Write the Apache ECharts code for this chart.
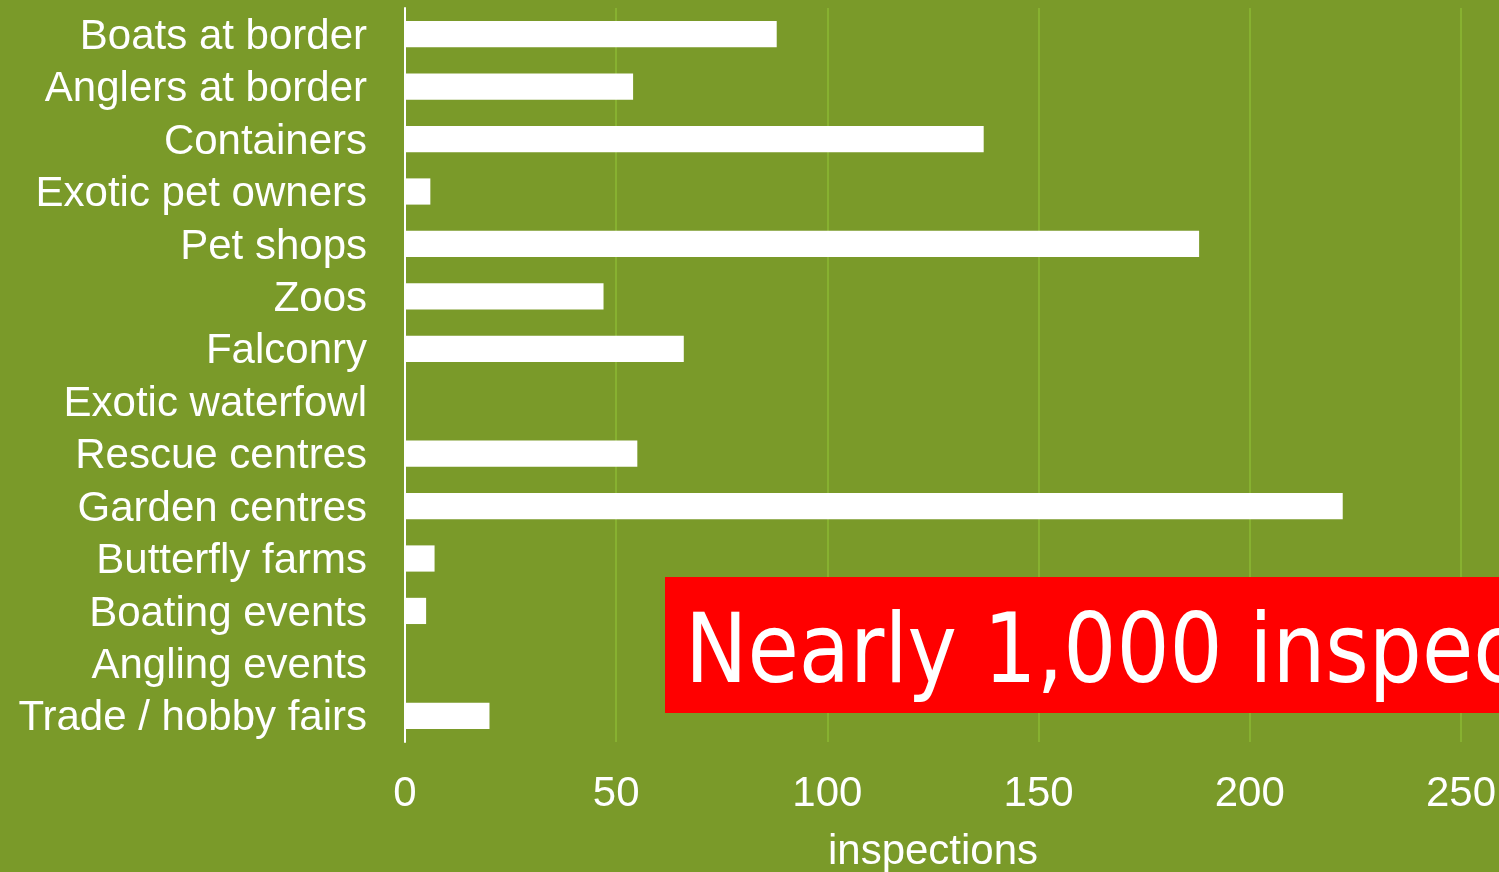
<!DOCTYPE html>
<html>
<head>
<meta charset="utf-8">
<script src="https://cdn.jsdelivr.net/npm/echarts@6/dist/echarts.min.js"></script>
<style>
  html, body { margin: 0; padding: 0; background: #7a9a29; }
  #chart { width: 1499px; height: 872px; }
</style>
</head>
<body>
<div id="chart"></div>
<script>
const categories = [
  "Boats at border", "Anglers at border", "Containers", "Exotic pet owners",
  "Pet shops", "Zoos", "Falconry", "Exotic waterfowl", "Rescue centres",
  "Garden centres", "Butterfly farms", "Boating events", "Angling events",
  "Trade / hobby fairs"
];
const inspections = [88, 54, 137, 6, 188, 47, 66, 0, 55, 222, 7, 5, 0, 20];
const banner = "Nearly 1,000 inspections";

const chart = echarts.init(document.getElementById("chart"));

chart.setOption({
  backgroundColor: "#7a9a29",
  animation: false,
  grid: { left: 405, right: 38, top: 8, bottom: 130, outerBoundsMode: "none" },
  xAxis: {
    type: "value",
    min: 0,
    max: 250,
    interval: 50,
    name: "inspections",
    nameLocation: "middle",
    nameGap: 89,
    nameTextStyle: { color: "#fff", fontSize: 42, fontFamily: "Liberation Sans" },
    axisLine: { show: false },
    axisTick: { show: false },
    splitLine: { show: true, lineStyle: { color: "#8cb833", width: 1.5 } },
    axisLabel: { color: "#fff", fontSize: 42, fontFamily: "Liberation Sans", margin: 31 }
  },
  yAxis: {
    type: "category",
    inverse: true,
    data: categories,
    axisLine: { show: true, lineStyle: { color: "#fff", width: 2 } },
    axisTick: { show: false },
    axisLabel: {
      margin: 38,
      interval: 0,
      formatter: (v) => `{c|${v}}`,
      rich: {
        c: {
          color: "#fff", fontSize: 42, fontFamily: "Liberation Sans",
          padding: [6, 0, 0, 0]
        }
      }
    }
  },
  series: [{
    type: "bar",
    data: inspections,
    barWidth: "50%",
    itemStyle: { color: "#fff" }
  }],
  graphic: [
    {
      type: "rect",
      shape: { x: 665, y: 577, width: 860, height: 136 },
      style: { fill: "#ff0000" },
      z: 100
    },
    {
      type: "text",
      x: 685,
      y: 657,
      scaleX: 0.87,
      style: {
        text: banner,
        fill: "#fff",
        font: "96px 'DejaVu Sans'",
        verticalAlign: "middle"
      },
      z: 101
    }
  ]
});
</script>
</body>
</html>
